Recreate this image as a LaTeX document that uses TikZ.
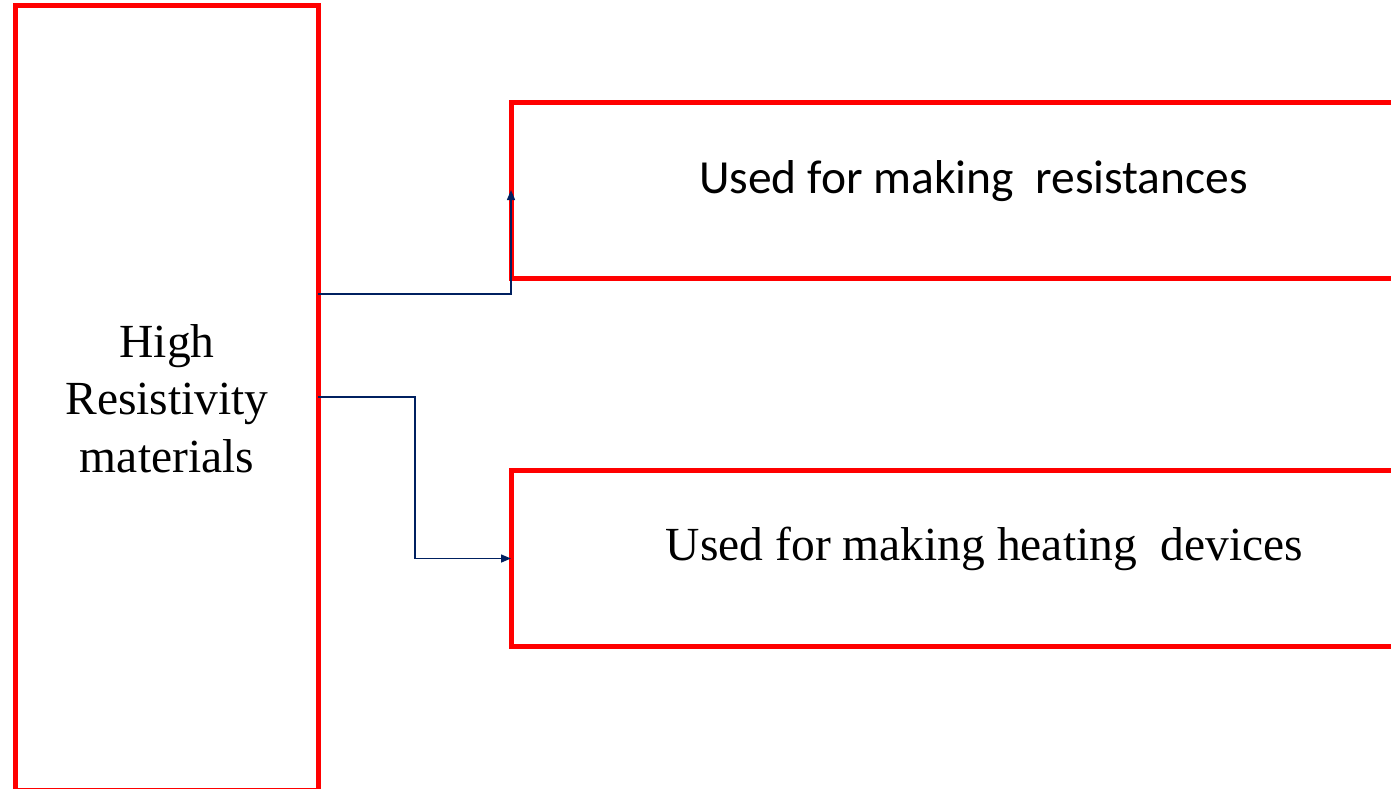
\documentclass[tikz,border=0pt]{standalone}
\usepackage{fontspec}
\setmainfont{Liberation Serif}
\newfontfamily\calibri{Carlito}
\usetikzlibrary{arrows.meta}
\definecolor{boxred}{RGB}{255,0,0}
\definecolor{navy}{RGB}{0,32,96}
\begin{document}
\begin{tikzpicture}[x=1pt,y=-1pt,
  redbox/.style={draw=boxred,line width=5pt,rectangle,inner sep=0pt,outer sep=0pt},
  conn/.style={draw=navy,line width=1.4pt,-{Triangle[length=10pt,width=8pt]}},
  bigtext/.style={font=\fontsize{47.5}{57.5}\selectfont,inner sep=0pt,anchor=base}]
\useasboundingbox (0,0) rectangle (1391,788);
\clip (0,0) rectangle (1391,788);
% boxes
\node[redbox,minimum width=303pt,minimum height=785pt] (src) at (166.5,397.5) {};
\node[redbox,minimum width=940pt,minimum height=176pt] (res) at (981,190) {};
\node[redbox,minimum width=940pt,minimum height=176pt] (heat) at (981,558.5) {};
% labels (base anchor of a multi-line node sits on its last line)
\node[bigtext,align=center] (srclbl) at (167,472) {High\\Resistivity\\materials};
\node[bigtext,font=\calibri\fontsize{47.5}{57.5}\selectfont] (reslbl) at (973.5,193) {Used for making\ \ resistances};
\node[bigtext] (heatlbl) at (984.5,560) {Used for making heating\ \ devices};
% connectors
\coordinate (s1) at (src.east |- 0,294);
\coordinate (s2) at (src.east |- 0,397);
\coordinate (t1) at (res.west |- 0,190);
\coordinate (k2) at (415,397);
\draw[conn] (s1) -| (t1);
\draw[conn] (s2) -- (k2) |- (heat.west);
\end{tikzpicture}
\end{document}
